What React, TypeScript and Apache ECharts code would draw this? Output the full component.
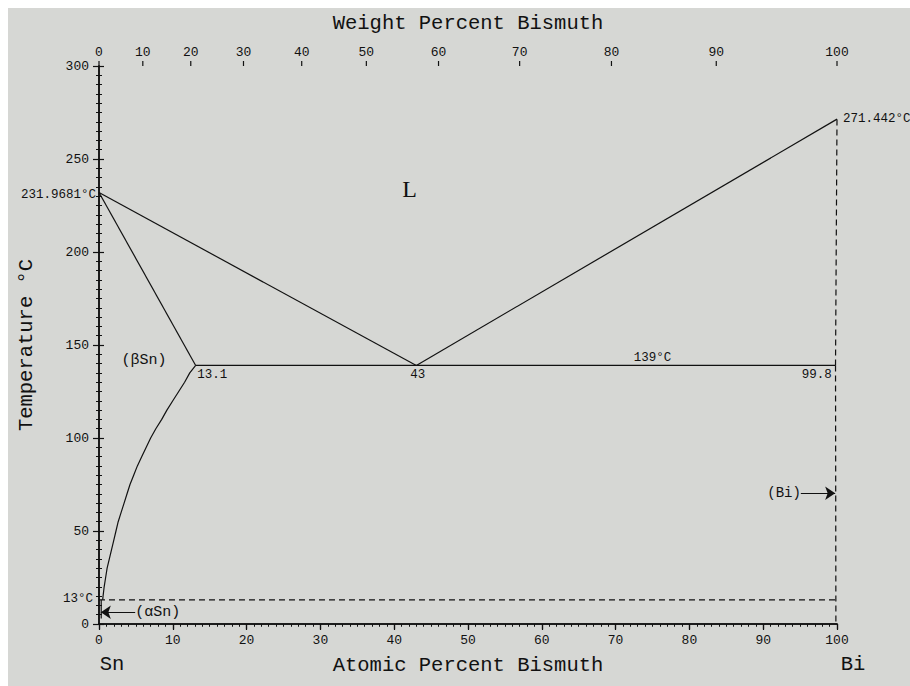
import React, { useEffect, useRef } from "react";
import * as echarts from "echarts";

// ---- data ----
const weightTicks = [0, 10, 20, 30, 40, 50, 60, 70, 80, 90, 100];
const SN_MASS = 118.71;
const BI_MASS = 208.98;

const liquidusSn = [[0, 231.9681], [43, 139]];
const liquidusBi = [[43, 139], [100, 271.442]];
const solidusSn = [[0, 231.9681], [13.1, 139]];
const solvusSn = [
  [13.1, 139], [12.3, 135], [11.6, 130], [10.8, 125], [10.0, 120], [9.2, 115], [8.5, 110],
  [7.7, 105], [7.0, 100], [6.4, 95], [5.8, 90], [5.2, 85], [4.7, 80], [4.2, 75], [3.8, 70],
  [3.4, 65], [3.0, 60], [2.6, 55], [2.3, 50], [2.0, 45], [1.7, 40], [1.4, 35], [1.1, 30],
  [0.9, 25], [0.7, 20], [0.55, 15], [0.5, 13],
];
const alphaSnBoundary = [[0.3, 13], [0.3, 3]];
const eutectic = [[13.1, 139], [99.8, 139]];
const solidusBi = [[99.8, 139], [100, 271.442]];
const solvusBi = [[99.8, 139], [99.85, 0]];
const alphaBeta = [[0, 13], [100, 13]];

const arrowAlphaSn = [[4.9, 6.3], [0.25, 6.3]];
const arrowBi = [[95.1, 70.3], [99.75, 70.3]];

const annotationTexts = ["L", "(βSn)", "13.1", "43", "139°C", "99.8", "231.9681°C", "271.442°C", "13°C", "(αSn)", "(Bi)", "Sn", "Bi"];
const annotationX = [42.1, 6.1, 13.3, 43.2, 75.0, 99.3, -0.4, 100.8, -0.8, 4.9, 95.1, 0.1, 100.5];
const annotationY = [234, 141.5, 133.7, 133.7, 142.8, 133.7, 230.8, 271.6, 13.2, 6.0, 70.3, -22, -22];
const annotationAlign = ["center", "center", "left", "center", "center", "right", "right", "left", "right", "left", "right", "left", "left"];
const annotationSize = [24, 15, 12.5, 12.5, 12.5, 12.5, 12.5, 12.5, 12.5, 15, 14, 20.5, 20.5];

const MONO = "'Liberation Mono', 'DejaVu Sans Mono', monospace";
const SERIF = "'Liberation Serif', 'DejaVu Serif', serif";
const BG = "#d6d7d4";
const INK = "#111";

function wtToAt(w: number): number {
  const b = w / BI_MASS;
  const s = (100 - w) / SN_MASS;
  return (b / (b + s)) * 100;
}

function lineSeries(data: number[][], dashed = false): any {
  return {
    type: "line",
    data,
    symbol: "none",
    silent: true,
    lineStyle: { color: INK, width: 1.2, type: dashed ? [6, 4] : "solid" },
    z: 3,
  };
}

export default function App() {
  const ref = useRef<HTMLDivElement>(null);

  useEffect(() => {
    if (!ref.current) return;
    const chart = echarts.init(ref.current, undefined, { renderer: "svg" });

    const axisLine = { show: true, lineStyle: { color: INK, width: 1.5 } };
    const option: any = {
      animation: false,
      backgroundColor: BG,
      grid: { left: 88, right: 73, top: 57, bottom: 62, containLabel: false },
      xAxis: [
        {
          type: "value",
          position: "bottom",
          min: 0,
          max: 100,
          interval: 10,
          axisLine,
          axisTick: { show: true, inside: false, length: 5, lineStyle: { color: INK, width: 1.2 } },
          minorTick: { show: true, splitNumber: 10, length: 2.5, lineStyle: { color: INK, width: 1 } },
          splitLine: { show: false },
          axisLabel: { fontFamily: MONO, fontSize: 13, color: INK, margin: 10 },
          name: "Atomic Percent Bismuth",
          nameLocation: "middle",
          nameGap: 31,
          nameTextStyle: { fontFamily: MONO, fontSize: 20.5, color: INK, verticalAlign: "top" },
        },
        {
          type: "value",
          position: "top",
          min: 0,
          max: 100,
          interval: 10,
          axisLine,
          axisTick: { show: true, inside: true, length: 6, lineStyle: { color: INK, width: 1.2 } },
          minorTick: { show: true, splitNumber: 10, length: 2.5, lineStyle: { color: INK, width: 1 } },
          splitLine: { show: false },
          axisLabel: { show: false },
          name: "Weight Percent Bismuth",
          nameLocation: "middle",
          nameGap: 32,
          nameTextStyle: { fontFamily: MONO, fontSize: 20.5, color: INK, verticalAlign: "bottom" },
        },
      ],
      yAxis: [
        {
          type: "value",
          position: "left",
          min: 0,
          max: 300,
          interval: 50,
          axisLine,
          axisTick: { show: true, inside: false, length: 6, lineStyle: { color: INK, width: 1.2 } },
          minorTick: { show: true, splitNumber: 10, length: 3, lineStyle: { color: INK, width: 1 } },
          splitLine: { show: false },
          axisLabel: { fontFamily: MONO, fontSize: 13, color: INK, margin: 10 },
          name: "Temperature °C",
          nameLocation: "middle",
          nameRotate: 90,
          nameGap: 62,
          nameTextStyle: { fontFamily: MONO, fontSize: 20.5, color: INK },
        },
        {
          type: "value",
          position: "right",
          min: 0,
          max: 300,
          interval: 50,
          axisLine,
          axisTick: { show: true, inside: false, length: 5, lineStyle: { color: INK, width: 1.2 } },
          minorTick: { show: true, splitNumber: 10, length: 3, lineStyle: { color: INK, width: 1 } },
          splitLine: { show: false },
          axisLabel: { show: false },
        },
      ],
      series: [
        lineSeries(liquidusSn),
        lineSeries(liquidusBi),
        lineSeries(solidusSn),
        lineSeries(solvusSn),
        lineSeries(alphaSnBoundary),
        lineSeries(eutectic),
        lineSeries(solidusBi, true),
        lineSeries(solvusBi, true),
        lineSeries(alphaBeta, true),
        {
          type: "lines",
          coordinateSystem: "cartesian2d",
          silent: true,
          symbol: ["none", "arrow"],
          symbolSize: [7, 10],
          lineStyle: { color: INK, width: 1.2, opacity: 1 },
          itemStyle: { color: INK },
          data: [{ coords: arrowAlphaSn }, { coords: arrowBi }],
          z: 4,
        },
        {
          type: "custom",
          silent: true,
          clip: false,
          data: weightTicks.map((w) => [wtToAt(w), 300]),
          renderItem: (params: any, api: any) => {
            const p = api.coord([api.value(0), api.value(1)]);
            return {
              type: "group",
              children: [
                {
                  type: "line",
                  shape: { x1: p[0], y1: p[1], x2: p[0], y2: p[1] - 5 },
                  style: { stroke: INK, lineWidth: 1.2 },
                },
                {
                  type: "text",
                  x: p[0],
                  y: p[1] - 14,
                  style: {
                    text: String(weightTicks[params.dataIndex]),
                    fontFamily: MONO,
                    fontSize: 13,
                    fill: INK,
                    align: "center",
                    verticalAlign: "middle",
                  },
                },
              ],
            };
          },
          z: 5,
        },
        {
          type: "custom",
          silent: true,
          clip: false,
          data: annotationX.map((x, i) => [x, annotationY[i]]),
          renderItem: (params: any, api: any) => {
            const i = params.dataIndex;
            const p = api.coord([api.value(0), api.value(1)]);
            return {
              type: "text",
              x: p[0],
              y: p[1],
              style: {
                text: annotationTexts[i],
                fontFamily: i === 0 ? SERIF : MONO,
                fontSize: annotationSize[i],
                fill: INK,
                align: annotationAlign[i],
                verticalAlign: "middle",
              },
            };
          },
          z: 6,
        },
      ],
    };

    chart.setOption(option);
    return () => chart.dispose();
  }, []);

  return (
    <div
      ref={ref}
      style={{ position: "fixed", left: 8, top: 8, width: 902, height: 678, background: BG }}
    />
  );
}
